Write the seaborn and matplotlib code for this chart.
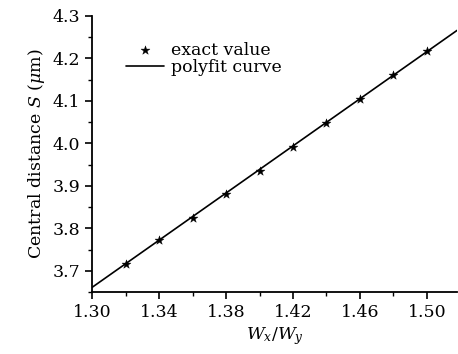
import matplotlib
matplotlib.use("Agg")
import matplotlib.pyplot as plt
import seaborn as sns
import pandas as pd
from matplotlib.ticker import MultipleLocator

ratio = [1.32, 1.34, 1.36, 1.38, 1.40, 1.42, 1.44, 1.46, 1.48, 1.50]
exact_s = [3.716, 3.772, 3.824, 3.881, 3.936, 3.992, 4.049, 4.105, 4.161, 4.218]
fit_x = [1.30, 1.518]
fit_y = [3.661, 4.266]

sns.set_theme(style="ticks")
plt.rcParams["font.family"] = ["DejaVu Serif"]
plt.rcParams["mathtext.fontset"] = "dejavuserif"
plt.rcParams["text.color"] = "black"
plt.rcParams["axes.labelcolor"] = "black"

fig = plt.figure(figsize=(4.58, 3.54), dpi=100)
ax = fig.add_axes([0.201, 0.175, 0.797, 0.78])

df_pts = pd.DataFrame({"x": ratio, "y": exact_s})
df_fit = pd.DataFrame({"x": fit_x, "y": fit_y})

sns.lineplot(data=df_fit, x="x", y="y", ax=ax, color="black", lw=1.2, label="polyfit curve")
sns.scatterplot(data=df_pts, x="x", y="y", ax=ax, marker="*", s=45, color="black",
                edgecolor="black", linewidth=0.3, label="exact value", zorder=3)

ax.set_xlim(1.30, 1.518)
ax.set_ylim(3.65, 4.30)
ax.xaxis.set_minor_locator(MultipleLocator(0.02))
ax.yaxis.set_minor_locator(MultipleLocator(0.05))
ax.set_xticks([1.30, 1.34, 1.38, 1.42, 1.46, 1.50])
ax.set_xticklabels(["1.30", "1.34", "1.38", "1.42", "1.46", "1.50"])
ax.set_yticks([3.7, 3.8, 3.9, 4.0, 4.1, 4.2, 4.3])
ax.set_yticklabels(["3.7", "3.8", "3.9", "4.0", "4.1", "4.2", "4.3"])

ax.tick_params(which="major", direction="out", length=5, width=1.2, labelsize=12.5, color="black", labelcolor="black")
ax.tick_params(which="minor", direction="out", length=3, width=1.0, color="black")
for side in ["top", "right"]:
    ax.spines[side].set_visible(False)
for side in ["left", "bottom"]:
    ax.spines[side].set_linewidth(1.3)
    ax.spines[side].set_color("black")

ax.set_xlabel("$W_x/W_y$", fontsize=12.5, labelpad=3, color="black")
ax.set_ylabel("Central distance $S$ ($\\mu$m)", fontsize=12.5, labelpad=4, color="black")

h, l = ax.get_legend_handles_labels()
leg = ax.legend([h[1], h[0]], [l[1], l[0]], loc="upper left", bbox_to_anchor=(0.06, 0.95),
                frameon=False, fontsize=12.5, handlelength=2.2, handletextpad=0.4,
                labelspacing=0.0, borderpad=0.2)
for t in leg.get_texts():
    t.set_color("black")

fig.savefig("out.png", dpi=100)
